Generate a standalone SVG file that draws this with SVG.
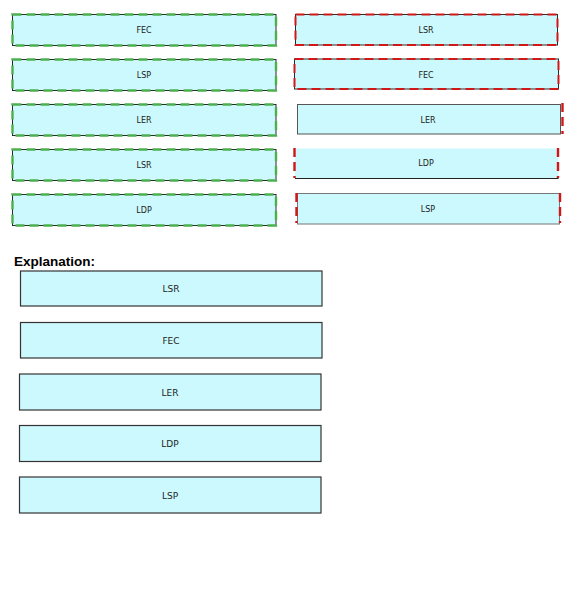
<svg xmlns="http://www.w3.org/2000/svg" width="568" height="590" viewBox="0 0 568 590">
<style>
.box{fill:#ccf9fd;stroke:#2a2a2a;stroke-width:1}
.gbox{fill:none;stroke:#4caf50;stroke-width:2.4;stroke-dasharray:9 5}
.rbox{fill:none;stroke:#d01818;stroke-width:2;stroke-dasharray:9 5}
.rmark{stroke:#d01818;stroke-width:2.4;stroke-dasharray:9 5}
.lbl{font-family:"DejaVu Sans",Verdana,sans-serif;font-size:8px;fill:#222;text-anchor:middle}
.xlbl{font-family:"DejaVu Sans",Verdana,sans-serif;font-size:9px;fill:#222;text-anchor:middle}
.xbox{fill:#ccf9fd;stroke:#333;stroke-width:1.2}
</style>
<rect width="568" height="590" fill="#fff"/>
<g id="left-FEC"><rect class="box" x="12.5" y="14.5" width="263.5" height="31"/><rect class="gbox" x="12.5" y="14.5" width="263.5" height="31"/><text class="lbl" x="144" y="33">FEC</text></g>
<g id="left-LSP"><rect class="box" x="12.5" y="59.5" width="263.5" height="31"/><rect class="gbox" x="12.5" y="59.5" width="263.5" height="31"/><text class="lbl" x="144" y="78">LSP</text></g>
<g id="left-LER"><rect class="box" x="12.5" y="104.5" width="263.5" height="31"/><rect class="gbox" x="12.5" y="104.5" width="263.5" height="31"/><text class="lbl" x="144" y="123">LER</text></g>
<g id="left-LSR"><rect class="box" x="12.5" y="149.5" width="263.5" height="31"/><rect class="gbox" x="12.5" y="149.5" width="263.5" height="31"/><text class="lbl" x="144" y="168">LSR</text></g>
<g id="left-LDP"><rect class="box" x="12.5" y="194.5" width="263.5" height="31"/><rect class="gbox" x="12.5" y="194.5" width="263.5" height="31"/><text class="lbl" x="144" y="213">LDP</text></g>

<g id="right-LSR"><rect class="box" x="295.5" y="14.5" width="262" height="30.5"/><rect class="rbox" x="295.5" y="14.5" width="262" height="30.5"/><text class="lbl" x="426" y="33">LSR</text></g>
<g id="right-FEC"><rect class="box" x="294.5" y="59" width="264" height="30"/><rect class="rbox" x="294.5" y="59" width="264" height="30"/><text class="lbl" x="426" y="78">FEC</text></g>
<g id="right-LER"><rect class="box" x="297.5" y="104.5" width="263" height="29.5" style="stroke:#555"/><line class="rmark" x1="562.5" y1="103" x2="562.5" y2="134"/><text class="lbl" x="428" y="123">LER</text></g>
<g id="right-LDP"><rect class="box" x="295" y="148.5" width="263.5" height="30" style="stroke:none"/><line x1="295" y1="178.5" x2="558.5" y2="178.5" stroke="#222"/><line class="rmark" x1="294.5" y1="148" x2="294.5" y2="178"/><line class="rmark" x1="558" y1="148" x2="558" y2="178"/><text class="lbl" x="426" y="166">LDP</text></g>
<g id="right-LSP"><rect class="box" x="297.5" y="193.5" width="262" height="30.5" style="stroke:#777"/><line class="rmark" x1="296.5" y1="193" x2="296.5" y2="223"/><line class="rmark" x1="560" y1="193" x2="560" y2="223"/><text class="lbl" x="428" y="212">LSP</text></g>

<text x="14" y="266" font-family="Liberation Sans,Arial,sans-serif" font-size="13.5" font-weight="bold" fill="#000">Explanation:</text>

<g id="exp-LSR"><rect class="xbox" x="20.5" y="271" width="301.5" height="35"/><text class="xlbl" x="171" y="292">LSR</text></g>
<g id="exp-FEC"><rect class="xbox" x="20.5" y="322.5" width="301.5" height="35.5"/><text class="xlbl" x="171" y="344">FEC</text></g>
<g id="exp-LER"><rect class="xbox" x="19.5" y="374" width="301.5" height="36"/><text class="xlbl" x="170" y="395.5">LER</text></g>
<g id="exp-LDP"><rect class="xbox" x="19.5" y="425.5" width="301.5" height="36"/><text class="xlbl" x="170" y="447">LDP</text></g>
<g id="exp-LSP"><rect class="xbox" x="19.5" y="477" width="301.5" height="36"/><text class="xlbl" x="170" y="498.5">LSP</text></g>
</svg>
